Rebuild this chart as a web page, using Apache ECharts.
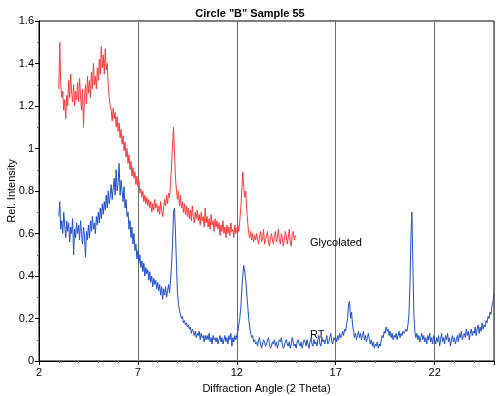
<!DOCTYPE html>
<html><head><meta charset="utf-8">
<script src="https://cdn.jsdelivr.net/npm/echarts@6/dist/echarts.min.js"></script>
<style>html,body{margin:0;padding:0;background:#fff}#c{width:500px;height:396px}</style>
</head><body><div id="c"></div>
<script>
const titleText = 'Circle "B" Sample 55';
const xAxisName = 'Diffraction Angle (2 Theta)';
const yAxisName = 'Rel. Intensity';
const seriesNames = ['Glycolated', 'RT'];
const xTicks = [2, 7, 12, 17, 22];
const yTicks = [0, 0.2, 0.4, 0.6, 0.8, 1, 1.2, 1.4, 1.6];
const xStart = 3.0, xStep = 0.05;
const glycolated = [
1.28,1.50,1.30,1.24,1.27,1.18,1.23,1.14,1.25,1.20,
1.32,1.24,1.35,1.26,1.22,1.30,1.20,1.27,1.23,1.31,
1.22,1.33,1.25,1.18,1.28,1.10,1.24,1.30,1.21,1.34,
1.26,1.32,1.24,1.36,1.28,1.40,1.30,1.34,1.28,1.38,
1.32,1.42,1.35,1.48,1.38,1.44,1.35,1.47,1.37,1.40,
1.30,1.24,1.20,1.18,1.13,1.19,1.14,1.17,1.10,1.15,
1.08,1.12,1.05,1.09,1.02,1.06,0.99,1.03,0.96,1.00,
0.93,0.97,0.90,0.94,0.87,0.91,0.86,0.89,0.83,0.87,
0.82,0.85,0.79,0.81,0.77,0.80,0.75,0.78,0.74,0.77,
0.73,0.76,0.72,0.75,0.70,0.74,0.71,0.76,0.72,0.74,
0.70,0.73,0.69,0.75,0.71,0.68,0.72,0.76,0.73,0.78,
0.74,0.79,0.77,0.84,0.92,1.02,1.10,0.98,0.86,0.80,
0.76,0.80,0.73,0.78,0.72,0.75,0.70,0.74,0.69,0.73,
0.68,0.72,0.67,0.71,0.66,0.73,0.68,0.65,0.70,0.67,
0.71,0.66,0.69,0.64,0.70,0.66,0.68,0.63,0.72,0.65,
0.68,0.63,0.67,0.62,0.69,0.64,0.66,0.61,0.67,0.63,
0.66,0.62,0.65,0.59,0.64,0.61,0.66,0.60,0.63,0.58,
0.64,0.60,0.63,0.59,0.65,0.61,0.62,0.58,0.64,0.60,
0.62,0.64,0.61,0.66,0.72,0.80,0.89,0.82,0.77,0.80,
0.72,0.65,0.60,0.58,0.61,0.57,0.60,0.56,0.59,0.57,
0.60,0.57,0.55,0.59,0.61,0.56,0.58,0.62,0.55,0.57,
0.59,0.61,0.56,0.54,0.58,0.60,0.57,0.55,0.59,0.61,
0.56,0.58,0.62,0.57,0.55,0.60,0.58,0.54,0.57,0.61,
0.59,0.55,0.58,0.62,0.56,0.54,0.60,0.61,0.57,0.59,
0.58];
const rt = [
0.68,0.75,0.62,0.66,0.60,0.70,0.64,0.58,0.66,0.61,
0.65,0.56,0.63,0.60,0.67,0.50,0.62,0.58,0.65,0.60,
0.64,0.57,0.66,0.60,0.55,0.63,0.59,0.49,0.61,0.57,
0.64,0.58,0.66,0.61,0.68,0.62,0.65,0.60,0.68,0.64,
0.70,0.65,0.72,0.67,0.74,0.69,0.75,0.71,0.78,0.72,
0.80,0.74,0.78,0.83,0.76,0.81,0.86,0.78,0.90,0.80,
0.84,0.93,0.78,0.85,0.80,0.75,0.82,0.72,0.76,0.68,
0.70,0.62,0.66,0.58,0.63,0.55,0.60,0.52,0.55,0.48,
0.52,0.46,0.50,0.44,0.47,0.42,0.46,0.40,0.44,0.41,
0.43,0.38,0.42,0.37,0.40,0.35,0.39,0.36,0.38,0.34,
0.37,0.33,0.36,0.31,0.35,0.29,0.34,0.31,0.35,0.30,
0.33,0.36,0.32,0.38,0.45,0.55,0.70,0.72,0.60,0.45,
0.32,0.27,0.24,0.22,0.20,0.21,0.18,0.19,0.17,0.18,
0.16,0.17,0.15,0.16,0.13,0.15,0.14,0.12,0.14,0.11,
0.13,0.12,0.14,0.10,0.13,0.11,0.12,0.09,0.12,0.10,
0.12,0.10,0.13,0.09,0.11,0.08,0.12,0.10,0.11,0.09,
0.11,0.08,0.10,0.12,0.09,0.11,0.08,0.10,0.12,0.09,
0.11,0.08,0.12,0.10,0.13,0.07,0.11,0.09,0.12,0.10,
0.12,0.14,0.17,0.20,0.25,0.33,0.40,0.45,0.42,0.38,
0.32,0.26,0.20,0.16,0.13,0.11,0.12,0.09,0.10,0.08,
0.09,0.07,0.10,0.11,0.08,0.06,0.08,0.10,0.09,0.07,
0.08,0.10,0.11,0.08,0.06,0.07,0.09,0.08,0.10,0.07,
0.09,0.06,0.08,0.10,0.09,0.11,0.08,0.06,0.07,0.09,
0.10,0.08,0.07,0.09,0.06,0.08,0.11,0.09,0.07,0.08,
0.06,0.09,0.10,0.08,0.07,0.09,0.06,0.08,0.10,0.09,
0.07,0.10,0.08,0.06,0.09,0.11,0.08,0.07,0.10,0.08,
0.09,0.07,0.10,0.12,0.08,0.07,0.11,0.09,0.10,0.08,
0.10,0.12,0.08,0.09,0.11,0.13,0.09,0.08,0.11,0.10,
0.11,0.09,0.12,0.10,0.13,0.11,0.12,0.14,0.12,0.15,
0.14,0.17,0.20,0.27,0.28,0.20,0.23,0.17,0.14,0.11,
0.13,0.10,0.12,0.14,0.11,0.13,0.10,0.12,0.14,0.10,
0.12,0.09,0.11,0.13,0.10,0.08,0.10,0.07,0.09,0.06,
0.08,0.07,0.09,0.06,0.08,0.07,0.10,0.12,0.11,0.14,
0.13,0.16,0.14,0.15,0.12,0.14,0.11,0.13,0.10,0.12,
0.11,0.13,0.10,0.12,0.14,0.11,0.13,0.12,0.14,0.13,
0.13,0.15,0.14,0.17,0.22,0.35,0.58,0.70,0.45,0.22,
0.14,0.11,0.13,0.10,0.12,0.09,0.11,0.13,0.10,0.12,
0.09,0.11,0.08,0.12,0.10,0.13,0.09,0.11,0.08,0.12,
0.10,0.08,0.11,0.09,0.12,0.07,0.10,0.13,0.09,0.11,
0.08,0.12,0.10,0.13,0.09,0.11,0.07,0.10,0.12,0.09,
0.11,0.08,0.10,0.12,0.09,0.13,0.11,0.14,0.10,0.12,
0.13,0.11,0.15,0.12,0.14,0.10,0.13,0.15,0.12,0.14,
0.13,0.16,0.12,0.15,0.17,0.13,0.16,0.14,0.18,0.15,
0.17,0.16,0.19,0.18,0.21,0.20,0.23,0.22,0.26,0.28,
0.32];
// label anchor points in data space [x, y]
const labelAnchors = [[15.7, 0.555], [15.7, 0.122]];

const toPairs = arr => arr.map((v, i) => [+(xStart + i * xStep).toFixed(2), v]);
const font = 'Liberation Sans, Arial, sans-serif';
const chart = echarts.init(document.getElementById('c'), null, {renderer: 'canvas'});
function mk(name, data, color, anchor) {
  return {
    type: 'line', name, data: toPairs(data), showSymbol: false, symbol: 'none',
    lineStyle: {color, width: 1}, itemStyle: {color}, animation: false,
    markPoint: {
      symbol: 'circle', symbolSize: 0, silent: true,
      data: [{coord: anchor, value: name}],
      label: {show: true, position: 'right', distance: 0, formatter: name,
        color: '#000', fontSize: 11, fontFamily: font}
    }
  };
}
chart.setOption({
  backgroundColor: '#fff',
  animation: false,
  title: {text: titleText, left: 'center', top: 3,
    textStyle: {fontSize: 11, fontWeight: 'bold', color: '#000', fontFamily: font}},
  grid: {left: 39, right: 6, top: 21, bottom: 35, containLabel: false, outerBoundsMode: 'none',
    show: true, borderColor: '#000', borderWidth: 1, backgroundColor: 'transparent'},
  xAxis: {
    type: 'value', min: 2, max: 25, interval: 5,
    name: xAxisName, nameLocation: 'middle', nameGap: 22, nameMoveOverlap: false,
    nameTextStyle: {fontSize: 11, color: '#000', fontFamily: font},
    axisLine: {lineStyle: {color: '#000'}},
    axisTick: {show: true, length: 4, lineStyle: {color: '#000'}},
    minorTick: {show: true, splitNumber: 5, length: 2, lineStyle: {color: '#666'}},
    axisLabel: {fontSize: 11, color: '#000', fontFamily: font, margin: 6, showMaxLabel: false,
      formatter: v => xTicks.includes(v) ? String(v) : ''},
    splitLine: {show: true, lineStyle: {color: '#6e6e6e', width: 1}}
  },
  yAxis: {
    type: 'value', min: 0, max: 1.6, interval: 0.2,
    name: yAxisName, nameLocation: 'middle', nameGap: 22, nameMoveOverlap: false,
    nameTextStyle: {fontSize: 11, color: '#000', fontFamily: font},
    axisLine: {show: true, lineStyle: {color: '#000'}},
    axisTick: {show: true, length: 4, lineStyle: {color: '#000'}},
    minorTick: {show: true, splitNumber: 2, length: 2, lineStyle: {color: '#666'}},
    axisLabel: {fontSize: 11, color: '#000', fontFamily: font, margin: 5,
      formatter: v => { const t = yTicks.find(k => Math.abs(k - v) < 1e-6); return t === undefined ? '' : String(t); }},
    splitLine: {show: false}
  },
  series: [
    mk(seriesNames[0], glycolated, '#ff3a3a', labelAnchors[0]),
    mk(seriesNames[1], rt, '#1f4fcc', labelAnchors[1])
  ]
});
</script></body></html>
